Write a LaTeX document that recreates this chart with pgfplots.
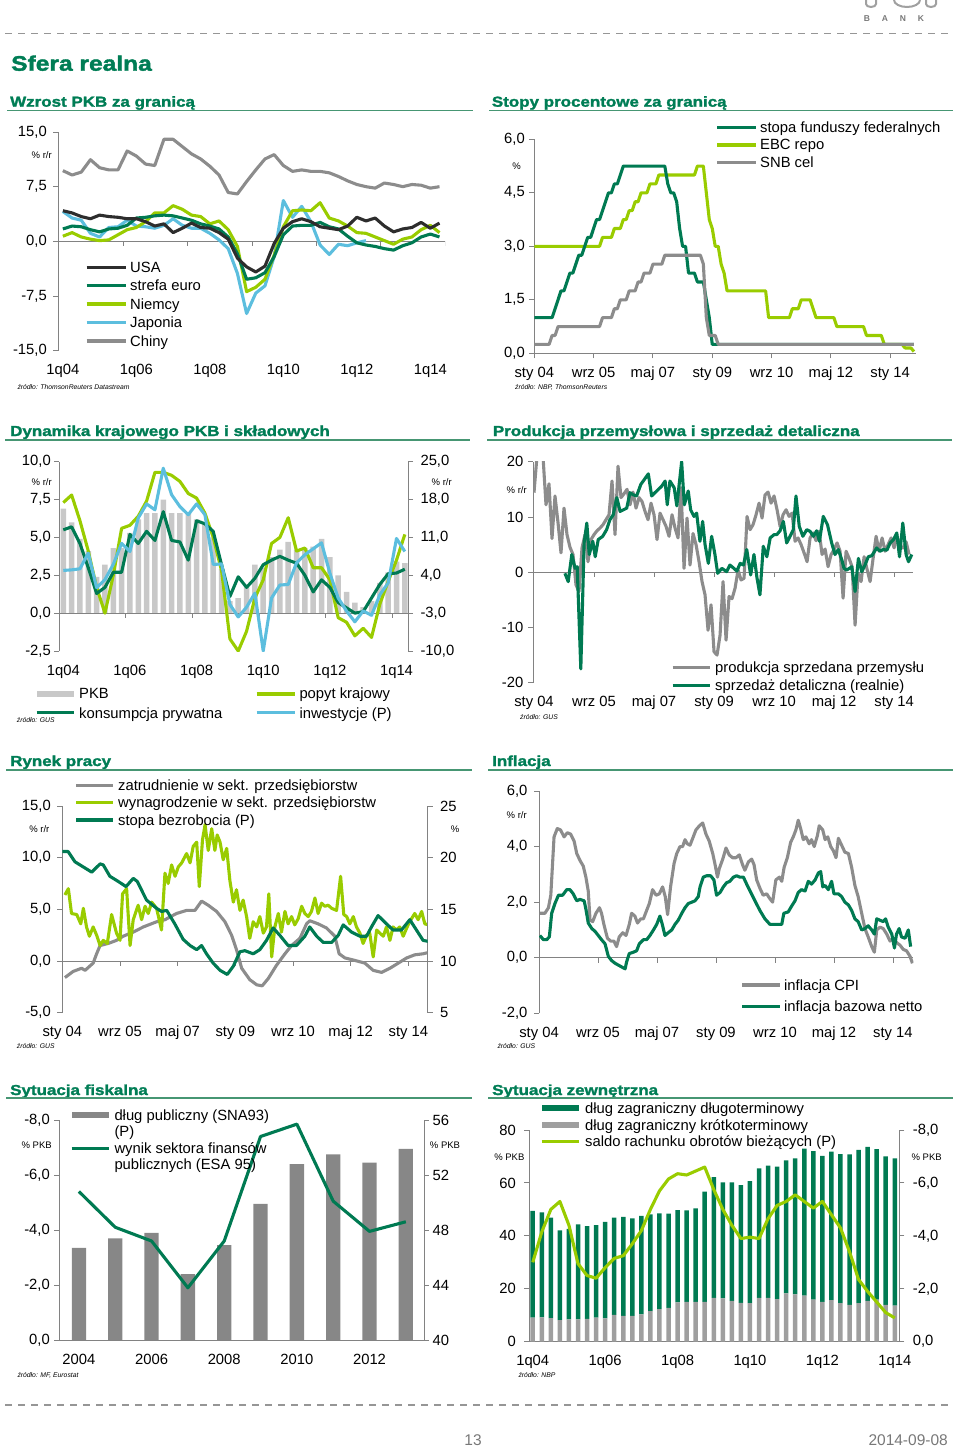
\documentclass[border=0pt]{standalone}
\usepackage{fontspec}
\setmainfont{Liberation Sans}
\newfontfamily\hfont[FakeStretch=1.17,BoldFeatures={FakeBold=1.8}]{Liberation Sans}
\usepackage{pgfplots}
\pgfplotsset{compat=1.18}
\usepackage{pgfplotstable}

\definecolor{dgreen}{RGB}{0,122,82}
\definecolor{lgreen}{RGB}{153,204,0}
\definecolor{lblue}{RGB}{92,190,222}
\definecolor{cgray}{RGB}{140,140,140}
\definecolor{cblack}{RGB}{45,45,45}
\definecolor{barlg}{RGB}{200,200,200}
\definecolor{bardg}{RGB}{135,135,135}
\definecolor{axgray}{RGB}{130,130,130}
\definecolor{tgreen}{RGB}{0,125,85}
\definecolor{rgreen}{RGB}{70,150,115}
\definecolor{dashc}{RGB}{150,150,150}
\definecolor{foot}{RGB}{120,120,120}

\newcommand\tickfont{\fontsize{14.8}{17}\selectfont}
\newcommand\unitfont{\fontsize{9.5}{11}\selectfont}
\newcommand\srcfont{\fontsize{6.8}{8}\selectfont\itshape}
\newcommand\titlefont{\hfont\bfseries\fontsize{14.5}{17}\selectfont}

\newcommand\lgl[4]{\draw[#1,line width=3.2pt] (#2pt,-#4pt) -- (#3pt,-#4pt);}
\newcommand\lgb[5]{\fill[#1] (#2pt,-#4pt) rectangle (#3pt,-#5pt);}
\newcommand\lgt[3]{\node[anchor=base west,inner sep=0pt,font=\tickfont,yshift=-5pt] at (#1pt,-#2pt) {#3};}
\newcommand\unit[3]{\node[font=\unitfont,inner sep=0pt] at (#1pt,-#2pt) {#3};}
\newcommand\src[3]{\node[anchor=west,font=\srcfont,inner sep=0pt] at (#1pt,-#2pt) {#3};}
\newcommand\phead[6]{\node[anchor=base west,inner sep=0pt,font=\titlefont,text=tgreen] at (#1pt,-#2pt) {#6};
  \draw[rgreen,line width=1.1pt] (#3pt,-#5pt) -- (#4pt,-#5pt);}
\newcommand\zt[1]{\pgfplotsinvokeforeach{#1}{\draw[axgray,line width=0.9pt] (axis cs:##1,0) -- ++(0pt,-5pt);}}

\pgfplotsset{
  base/.style={scale only axis, anchor=south west, clip=true,
    axis line style={axgray, line width=0.9pt},
    tick style={axgray, line width=0.9pt},
    major tick length=5pt, tick align=outside,
    tick label style={font=\tickfont},
    axis y line*=left, axis x line*=bottom,
    xticklabel style={anchor=base, yshift=-19pt}},
  zl/.style={x axis line style={draw=none}, xtick style={draw=none}},
  rax/.style={scale only axis, anchor=south west, clip=true,
    axis line style={axgray, line width=0.9pt},
    tick style={axgray, line width=0.9pt},
    major tick length=5pt, tick align=outside,
    tick label style={font=\tickfont},
    axis y line*=right, axis x line=none},
  ln/.style={line width=3.1pt, line join=round, mark=none},
  zline/.style={axgray, line width=0.9pt, forget plot},
}

% ---------- data ----------
\pgfplotstableread{
q ch us eu de jp
0 9.7 4.2 1.7 0.7 4.1
1 9.1 3.9 2.1 1.2 3.2
2 9.5 3.4 2.0 0.6 2.9
3 11.2 3.1 1.6 0.3 1.1
4 10.1 3.6 1.3 0.1 0.6
5 9.8 3.4 1.7 0.2 1.9
6 9.8 3.3 1.8 0.9 2.0
7 12.4 3.1 2.2 1.6 2.9
8 11.7 3.1 3.2 1.9 2.1
9 10.6 2.7 3.3 2.7 2.0
10 10.4 2.1 3.5 3.9 1.8
11 14.0 2.4 3.6 3.9 2.2
12 14.0 1.2 3.5 4.9 3.1
13 13.0 1.8 3.2 4.4 2.2
14 12.0 2.5 2.9 3.6 1.8
15 11.3 1.9 2.4 3.4 1.8
16 10.3 1.8 2.1 2.4 1.1
17 9.1 1.2 1.7 2.8 0.2
18 6.7 0.3 0.6 1.6 -1.0
19 6.5 -2.3 -1.7 -0.7 -4.4
20 8.2 -3.5 -5.2 -6.9 -9.9
21 9.8 -4.2 -5.0 -6.3 -7.1
22 11.3 -3.4 -4.3 -5.2 -6.1
23 11.9 -0.3 -2.1 -1.9 -2.1
24 10.4 1.8 0.9 2.0 5.6
25 9.6 2.7 2.1 4.2 3.3
26 9.8 3.1 2.2 4.3 4.8
27 9.6 2.7 2.2 4.2 2.7
28 9.6 2.0 2.6 5.3 -0.5
29 9.4 1.8 2.0 3.2 -1.8
30 8.9 1.6 1.7 2.8 -0.4
31 8.3 2.1 0.7 2.1 -0.6
32 7.8 3.3 -0.2 1.2 -0.2
33 7.5 2.8 -0.5 1.1 0.1
34 7.3 3.2 -0.7 0.6 nan
35 8.0 2.1 -1.0 0.1 nan
36 7.8 1.3 -1.2 -0.4 nan
37 7.5 1.7 -0.6 0.3 nan
38 7.8 1.9 -0.2 0.6 nan
39 7.7 2.6 0.6 1.6 nan
40 7.3 1.8 1.0 2.2 nan
41 7.5 2.5 0.6 1.2 nan
}\tA

\pgfplotstableread{
q pkb pop kon inw
0 6.9 7.3 5.5 4.9
1 6.0 7.8 5.7 5.0
2 4.9 6.1 4.6 5.2
3 4.1 4.1 3.0 8.1
4 2.4 1.7 1.3 1.7
5 3.2 0.0 1.7 3.2
6 4.3 2.5 2.7 6.0
7 4.3 5.6 2.7 9.9
8 5.3 5.8 5.2 8.4
9 6.2 6.4 4.6 14.6
10 6.6 7.4 5.4 17.2
11 6.6 9.3 4.8 16.1
12 7.5 9.3 6.7 23.8
13 6.6 9.1 4.8 18.9
14 6.6 8.7 4.7 16.7
15 6.6 7.9 3.5 15.2
16 6.2 7.6 6.1 17.2
17 5.9 6.6 5.9 15.2
18 5.0 5.0 5.4 6.0
19 2.9 2.8 3.2 6.1
20 0.8 -1.7 1.1 -1.4
21 1.0 -2.5 2.4 -3.7
22 1.7 -1.2 1.7 -1.9
23 3.2 1.0 2.3 0.7
24 3.0 2.2 3.2 -10.0
25 3.7 4.6 3.5 -0.2
26 4.2 5.0 3.75 2.2
27 4.7 6.3 3.5 2.3
28 4.2 4.1 3.3 6.3
29 4.3 4.3 2.5 7.8
30 4.4 3.0 1.4 8.9
31 4.9 3.0 2.2 10.0
32 3.7 2.2 1.7 4.4
33 2.5 -0.3 0.7 -0.2
34 1.4 -0.6 0.35 -2.6
35 0.7 -1.5 0.0 -4.6
36 0.4 -1.0 0.1 -2.6
37 0.8 -1.6 1.0 -3.4
38 2.0 0.6 1.9 0.4
39 2.7 2.1 2.6 2.6
40 3.4 3.5 2.65 10.8
41 3.3 5.2 2.9 8.4
}\tC

\pgfplotstableread{
y debt bal
2004 46.7 -5.4
2005 47.4 -4.1
2006 47.8 -3.6
2007 44.8 -1.9
2008 46.9 -3.6
2009 49.9 -7.4
2010 52.8 -7.85
2011 53.5 -5.05
2012 52.9 -3.95
2013 53.9 -4.3
}\tG

\pgfplotstableread{
q st lt ca
0 9.1 40.3 -3.0
1 9.2 39.7 -4.15
2 8.9 38.0 -5.0
3 8.2 33.9 -5.3
4 8.4 34.2 -4.4
5 8.4 35.9 -2.95
6 8.6 35.1 -2.5
7 9.1 35.0 -2.4
8 8.8 36.5 -2.8
9 10.1 36.8 -3.15
10 9.8 37.4 -3.25
11 9.8 36.8 -3.7
12 10.3 37.3 -4.2
13 11.6 36.5 -5.0
14 12.3 36.2 -5.7
15 12.8 35.6 -6.15
16 14.9 34.8 -6.35
17 15.1 34.5 -6.3
18 15.1 35.3 -6.45
19 15.1 41.6 -6.6
20 16.6 45.6 -5.75
21 16.4 43.8 -5.0
22 15.4 44.8 -4.4
23 14.7 44.5 -3.9
24 14.6 46.1 -3.95
25 16.6 48.9 -3.9
26 16.6 49.9 -4.65
27 16.1 50.1 -5.15
28 18.3 50.2 -5.3
29 17.9 51.4 -5.55
30 17.4 55.6 -5.3
31 15.9 56.1 -5.05
32 15.1 55.1 -5.3
33 15.7 56.1 -4.8
34 14.6 56.3 -4.3
35 13.9 56.9 -3.4
36 14.6 57.9 -2.35
37 15.4 58.2 -1.9
38 15.9 56.9 -1.5
39 13.9 56.1 -1.1
40 13.6 55.7 -0.9
}\tH

\begin{document}
\begin{tikzpicture}
\path[use as bounding box] (0pt,0pt) rectangle (960pt,-1450pt);

% ---------- header / footer ----------
\draw[dashc,line width=1.3pt,dash pattern=on 7pt off 6pt] (5pt,-33.3pt) -- (952pt,-33.3pt);
\draw[dashc,line width=1.3pt,dash pattern=on 7pt off 6pt] (5pt,-1405pt) -- (952pt,-1405pt);
\node[anchor=base west,inner sep=0pt,font=\hfont\bfseries\fontsize{21}{24}\selectfont,text=tgreen] at (11pt,-70.7pt) {Sfera realna};
\foreach \l/\x in {B/867,A/885,N/903,K/921}{\node[inner sep=0pt,font=\bfseries\fontsize{8.5}{9}\selectfont,text=foot] at (\x pt,-18.3pt) {\l};}
\draw[foot!70,line width=2pt] (866pt,0pt) -- (866pt,-4pt) arc (180:360:5pt and 3pt) -- (876pt,0pt);
\draw[foot!70,line width=2pt] (894pt,0pt) arc (180:360:13pt and 7pt);
\draw[foot!70,line width=2pt] (926pt,0pt) -- (926pt,-4pt) arc (180:360:5pt and 3pt) -- (936pt,0pt);
\node[inner sep=0pt,font=\fontsize{15.5}{18}\selectfont,text=foot] at (473pt,-1440pt) {13};
\node[anchor=east,inner sep=0pt,font=\fontsize{15.5}{18}\selectfont,text=foot] at (948pt,-1440pt) {2014-09-08};

% ---------- titles ----------
\phead{10}{106.7}{7.3}{473}{110.7}{Wzrost PKB za granicą}
\phead{491.7}{106.7}{489.3}{953}{110.7}{Stopy procentowe za granicą}
\phead{10}{436}{5}{470}{440}{Dynamika krajowego PKB i składowych}
\phead{492.7}{436}{487}{952}{440}{Produkcja przemysłowa i sprzedaż detaliczna}
\phead{10}{766}{6}{472}{770}{Rynek pracy}
\phead{492}{766}{488}{953}{770}{Inflacja}
\phead{10}{1095}{6}{472}{1098}{Sytuacja fiskalna}
\phead{492}{1095}{488}{953}{1098}{Sytuacja zewnętrzna}

% ===== P1 =====
\begin{axis}[base, zl, at={(58.3pt,-350.7pt)}, width=386.7pt, height=218.7pt,
  xmin=-0.5, xmax=41.6, ymin=-15, ymax=15,
  xtick={0,8,16,24,32,40}, xticklabels={1q04,1q06,1q08,1q10,1q12,1q14},
  ytick={-15,-7.5,0,7.5,15}, yticklabels={{-15,0},{-7,5},{0,0},{7,5},{15,0}},
  yticklabel style={xshift=-3pt}]
\addplot[zline] coordinates {(-0.5,0) (41.6,0)};
\zt{6.55,13.6,20.6,27.6,34.6,41.6}
\addplot[ln,cgray] table[x=q,y=ch]{\tA};
\addplot[ln,lblue] table[x=q,y=jp]{\tA};
\addplot[ln,lgreen] table[x=q,y=de]{\tA};
\addplot[ln,dgreen] table[x=q,y=eu]{\tA};
\addplot[ln,cblack] table[x=q,y=us]{\tA};
\end{axis}
\unit{41.7}{155}{\% r/r}
\lgl{cblack}{86.7}{126}{267.3}\lgt{130}{267.3}{USA}
\lgl{dgreen}{86.7}{126}{285.7}\lgt{130}{285.7}{strefa euro}
\lgl{lgreen}{86.7}{126}{304}\lgt{130}{304}{Niemcy}
\lgl{lblue}{86.7}{126}{322.7}\lgt{130}{322.7}{Japonia}
\lgl{cgray}{86.7}{126}{341}\lgt{130}{341}{Chiny}
\src{17.3}{387.3}{źródło: ThomsonReuters Datastream}

% ===== P2 =====
\begin{axis}[base, at={(534.3pt,-353.3pt)}, width=381.7pt, height=214pt,
  xmin=0, xmax=128.7, ymin=0, ymax=6,
  xtick={0,20,40,60,80,100,120}, xticklabels={sty 04,wrz 05,maj 07,sty 09,wrz 10,maj 12,sty 14},
  ytick={0,1.5,3,4.5,6}, yticklabels={{0,0},{1,5},{3,0},{4,5},{6,0}},
  yticklabel style={xshift=-1pt}]
\addplot[ln,lgreen] coordinates {(0,3.0) (22,3.0) (23,3.25) (26,3.25) (27,3.5) (29,3.5) (30,3.75) (31,3.75) (32,4.0) (33,4.0) (34,4.25) (35,4.25) (36,4.5) (38,4.5) (39,4.75) (41,4.75) (42,5.0) (54,5.0) (55,5.25) (57,5.25) (58,4.5) (59,3.75) (60,3.5) (61,3.0) (62,3.0) (63,2.5) (64,2.25) (65,1.75) (78,1.75) (79,1.0) (86,1.0) (87,1.25) (89,1.25) (90,1.5) (93,1.5) (94,1.25) (95,1.0) (101,1.0) (102,0.75) (111,0.75) (112,0.5) (117,0.5) (118,0.25) (124,0.25) (125,0.15) (127,0.15) (128,0.05)};
\addplot[ln,dgreen] coordinates {(0,1) (6,1) (7,1.25) (8,1.5) (9,1.75) (10,1.75) (11,2) (12,2.25) (13,2.25) (14,2.5) (15,2.75) (16,2.75) (17,3) (18,3.25) (19,3.25) (20,3.5) (21,3.75) (22,3.75) (23,4) (24,4.25) (25,4.5) (26,4.5) (27,4.75) (28,4.75) (29,5) (30,5.25) (44,5.25) (45,4.75) (46,4.5) (47,4.5) (48,4.25) (49,3.5) (50,3) (51,3) (52,2.25) (54,2.25) (55,2) (57,2) (58,1.5) (59,1) (60,0.25) (128,0.25)};
\addplot[ln,cgray] coordinates {(0,0.25) (5,0.25) (6,0.5) (7,0.5) (8,0.75) (22,0.75) (23,1.0) (26,1.0) (27,1.25) (28,1.25) (29,1.5) (31,1.5) (32,1.75) (34,1.75) (35,2.0) (36,2.0) (37,2.25) (39,2.25) (40,2.5) (43,2.5) (44,2.75) (56,2.75) (57,2.5) (58,1.0) (59,0.5) (61,0.5) (62,0.25) (128,0.25)};
\end{axis}
\unit{516.7}{166.7}{\%}
\lgl{dgreen}{717.3}{756}{127.3}\lgt{760}{127.3}{stopa funduszy federalnych}
\lgl{lgreen}{717.3}{756}{145}\lgt{760}{145}{EBC repo}
\lgl{cgray}{717.3}{756}{162.3}\lgt{760}{162.3}{SNB cel}
\src{515}{387.3}{źródło: NBP, ThomsonReuters}

% ===== P3 =====
\begin{axis}[base, zl, at={(59.3pt,-651pt)}, width=348.7pt, height=189.3pt,
  xmin=-0.48, xmax=41.38, ymin=-2.5, ymax=10,
  xtick={0,8,16,24,32,40}, xticklabels={1q04,1q06,1q08,1q10,1q12,1q14},
  ytick={-2.5,0,2.5,5,7.5,10}, yticklabels={{-2,5},{0,0},{2,5},{5,0},{7,5},{10,0}}]
\addplot[ybar, bar width=5.5pt, fill=barlg, draw=none] table[x=q,y=pkb]{\tC};
\addplot[zline] coordinates {(-0.48,0) (41.38,0)};
\zt{7.5,15.5,23.5,31.5,39.5}
\addplot[ln,lgreen] table[x=q,y=pop]{\tC};
\addplot[ln,dgreen] table[x=q,y=kon]{\tC};
\end{axis}
\begin{axis}[rax, at={(59.3pt,-651pt)}, width=348.7pt, height=189.3pt,
  xmin=-0.48, xmax=41.38, ymin=-10, ymax=25,
  ytick={-10,-3,4,11,18,25}, yticklabels={{-10,0},{-3,0},{4,0},{11,0},{18,0},{25,0}},
  yticklabel style={xshift=4pt}]
\addplot[ln,lblue] table[x=q,y=inw]{\tC};
\end{axis}
\unit{41.7}{481.7}{\% r/r}
\unit{441.7}{481.7}{\% r/r}
\lgb{barlg}{36.7}{74}{690.7}{697.3}\lgt{79}{693.3}{PKB}
\lgl{dgreen}{36.7}{74}{712.3}\lgt{79}{713.3}{konsumpcja prywatna}
\lgl{lgreen}{256.7}{295}{694}\lgt{299.3}{693.3}{popyt krajowy}
\lgl{lblue}{256.7}{295}{712.3}\lgt{299.3}{713.3}{inwestycje (P)}
\src{16.7}{720}{źródło: GUS}

% ===== P4 =====
\begin{axis}[base, zl, at={(533.3pt,-682.7pt)}, width=379.7pt, height=221pt,
  xmin=-0.23, xmax=126.3, ymin=-20, ymax=20,
  xtick={0,20,40,60,80,100,120}, xticklabels={sty 04,wrz 05,maj 07,sty 09,wrz 10,maj 12,sty 14},
  ytick={-20,-10,0,10,20}, yticklabels={-20,-10,0,10,20},
  yticklabel style={xshift=-1.5pt}]
\addplot[zline] coordinates {(-0.23,0) (126.3,0)};
\zt{20,40,60,80,100,120}
\addplot[ln,cgray] coordinates {(0,14.4)(1,21)(2,23)(3,21)(4,12.2)(5,16)(6,6.1)(7,13.8)(8,9)(9,3.5)(10,11.6)(11,6.8)(12,4.5)(13,3.2)(14,-2.3)(15,-3.5)(16,4.4)(17,6.8)(18,1.9)(19,5.9)(20,6.8)(21,7.5)(22,8.0)(23,8.6)(24,9.5)(25,10.4)(26,16.5)(27,6.8)(28,19.2)(29,13.5)(30,14.2)(31,15)(32,12.2)(33,14.5)(34,11.6)(35,13.5)(36,12.8)(37,11)(38,9.5)(39,12.5)(40,10.4)(41,5.9)(42,10.7)(43,9.5)(44,8.3)(45,6.5)(46,10.4)(47,8)(48,6.2)(49,15.3)(50,0.7)(51,9.8)(52,1.3)(53,7)(54,5)(55,1.9)(56,-1.7)(57,-4.1)(58,-10.5)(59,-5.9)(60,-14.4)(61,-15)(62,-11.4)(63,-1.7)(64,-12.3)(65,-4.4)(66,-4.8)(67,-2.9)(68,0.4)(69,-1.4)(70,-1.1)(71,10.1)(72,7.7)(73,8.6)(74,10.4)(75,12.5)(76,9.8)(77,14)(78,14.5)(79,12.5)(80,13.8)(81,11.3)(82,8.3)(83,10.4)(84,11.3)(85,10.1)(86,10.7)(87,5.6)(88,6.2)(89,5.0)(90,3.5)(91,1.9)(92,6.2)(93,7.1)(94,5.7)(95,7.4)(96,3.2)(97,4.2)(98,1.0)(99,3.2)(100,4.1)(101,5.3)(102,3.8)(103,-4.7)(104,3.8)(105,2.5)(106,1.0)(107,-9.6)(108,-0.2)(109,-1.7)(110,2.8)(111,0.5)(112,-1.7)(113,2.5)(114,6.5)(115,3.8)(116,6.2)(117,3.8)(118,5)(119,6.2)(120,4.4)(121,6.5)(122,4.7)(123,4.4)(124,5.5)(125,3.2)};
\addplot[ln,dgreen] coordinates {(10.3,-0.2)(11.4,-1.7)(12.6,3.2)(13.7,0.7)(14.4,1.0)(15.6,-17.5)(16.7,5.3)(17.6,8.9)(18.4,3.2)(19.6,5.6)(20.4,2.8)(21.4,5.9)(22.9,6.5)(24.2,7.7)(25.3,9.5)(26.4,10.4)(27.6,13.5)(28.7,11)(29.8,11.3)(30.9,11.6)(32,14.4)(33.1,14)(34.2,13.8)(35.6,15.9)(36.4,16.5)(38.1,17.8)(39.2,13.8)(40.9,14.7)(42.6,15.6)(43.7,16.5)(44.4,12.2)(45.3,16.5)(46.7,15.3)(47.6,12)(49.2,20)(50.1,12.2)(51.4,14.7)(52.2,11.3)(53.3,10.1)(54.2,10.7)(55.3,5.6)(56.2,9.2)(57,5.0)(58.1,1.6)(59.2,6.5)(60.3,3.2)(61.2,-0.2)(62.6,0.7)(64.2,0.1)(65.3,1.3)(66.4,0.8)(67.6,0.2)(68.7,1.6)(69.8,1.3)(70.9,4.1)(72.2,-0.5)(73.3,3.2)(74.3,-1.0)(75.3,-4.1)(76.4,4.7)(77.6,2.8)(78.7,6.2)(80,6.8)(80.9,6.8)(82,7.5)(83.1,9.2)(84.2,5.3)(85.6,6.8)(86.4,7.7)(87.3,13.8)(88.4,8.3)(89.6,6.5)(90.9,7.7)(92,7.4)(93.1,6.5)(94.2,7.5)(95.1,5.6)(96.4,10.1)(97.8,8.6)(99.2,5.3)(100.3,3.2)(101.4,4.1)(102.6,2.2)(103.3,0.7)(104.2,0.4)(105.1,0.7)(105.9,1.0)(107,-3.5)(108.1,2.5)(109.2,0.1)(110.3,1.3)(111.4,2.8)(112.6,3.0)(114.2,4.4)(115.3,3.8)(116.4,4.1)(117.6,4.0)(118.7,5.3)(119.8,5.9)(120.9,7.1)(121.8,2.8)(122.9,8.9)(124,3.2)(124.8,1.9)(125.9,3.2)};
\end{axis}
\unit{516.7}{490}{\% r/r}
\lgl{cgray}{672.7}{710}{667.7}\lgt{715}{667.7}{produkcja sprzedana przemysłu}
\lgl{dgreen}{672.7}{710}{685.7}\lgt{715}{685.7}{sprzedaż detaliczna (realnie)}
\src{520}{716.7}{źródło: GUS}

% ===== P5 =====
\begin{axis}[base, zl, at={(62.3pt,-1012.7pt)}, width=365.4pt, height=206.7pt,
  xmin=0, xmax=126.7, ymin=-5, ymax=15,
  xtick={0,20,40,60,80,100,120}, xticklabels={sty 04,wrz 05,maj 07,sty 09,wrz 10,maj 12,sty 14},
  ytick={-5,0,5,10,15}, yticklabels={{-5,0},{0,0},{5,0},{10,0},{15,0}},
  yticklabel style={xshift=-3pt}]
\addplot[zline] coordinates {(0,0) (126.7,0)};
\zt{20,40,60,80,100,120}
\addplot[ln,cgray] coordinates {(0.9,-1.6)(3.8,-1.0)(6.7,-0.7)(7.9,-0.9)(10.7,-0.2)(11.9,0.7)(13.1,1.5)(15.9,1.7)(18.8,2.0)(21.1,2.4)(24.6,2.8)(28.1,3.3)(32.7,3.8)(35.6,4.0)(39.6,4.6)(43.1,4.9)(46.0,4.9)(48.3,5.8)(50.6,5.4)(53.5,4.8)(56.4,3.8)(58.7,2.5)(60.4,1.1)(62.2,-0.7)(65.0,-1.8)(67.4,-2.3)(69.3,-2.4)(71.4,-1.7)(74.3,-0.4)(77.2,0.7)(79.5,1.5)(82.4,2.2)(84.7,3.6)(85.8,3.9)(88.7,3.6)(91.6,3.2)(94.5,2.4)(96.0,0.7)(98.0,0.3)(100.9,0.1)(104.9,-0.2)(107.8,-0.9)(110.7,-1.1)(113.6,-0.7)(116.5,-0.2)(119.4,0.3)(122.2,0.6)(125.1,0.7)(126.5,0.8)};
\addplot[ln,lgreen] coordinates {(0.9,6.4)(2.1,7.0)(3.2,4.6)(5.0,4.5)(6.4,3.6)(7.3,5.1)(8.4,3.3)(9.4,2.4)(10.7,3.3)(11.9,2.5)(13.1,1.5)(14.2,2.0)(15.6,1.7)(17.1,4.5)(18.8,2.7)(20.0,2.0)(20.9,6.5)(22.3,7.0)(23.5,1.5)(24.6,4.0)(26.3,5.4)(27.5,4.0)(28.7,5.3)(29.8,4.6)(31.0,5.7)(32.7,5.1)(34.4,3.0)(35.6,8.5)(36.7,7.5)(37.9,9.3)(39.1,8.2)(40.2,9.1)(41.4,9.5)(43.1,10.4)(44.3,9.5)(45.4,11.1)(46.6,11.5)(47.5,7.2)(48.6,11.7)(49.5,13.2)(50.6,10.7)(51.8,12.8)(52.9,10.7)(53.7,12.2)(54.7,11.5)(55.8,9.8)(57.0,10.9)(58.1,7.8)(59.3,5.7)(60.4,6.9)(61.6,4.9)(62.7,5.9)(63.9,4.3)(65.0,2.2)(66.2,3.8)(67.4,3.3)(68.5,4.3)(69.7,2.7)(70.8,3.3)(71.6,6.5)(72.6,0.4)(73.7,3.3)(74.9,4.6)(76.0,2.8)(77.2,4.8)(78.3,3.6)(79.5,4.3)(80.6,3.5)(81.8,4.1)(83.0,5.3)(84.1,4.6)(85.3,4.3)(86.4,4.8)(87.6,6.1)(88.7,4.6)(89.9,5.6)(91.0,5.3)(92.2,5.4)(93.4,5.1)(95.1,4.9)(96.5,8.2)(97.6,4.5)(98.6,4.3)(99.7,3.6)(100.9,4.3)(102.0,3.3)(103.2,2.7)(104.3,1.7)(105.5,2.5)(106.6,2.7)(107.8,0.4)(109.0,3.0)(110.1,2.7)(111.3,2.4)(112.4,3.3)(113.6,2.0)(114.7,3.3)(115.9,3.0)(117.0,3.3)(118.2,2.4)(119.9,3.5)(121.1,4.1)(122.2,4.6)(123.4,4.0)(124.6,4.8)(125.7,3.6)(126.9,3.5)};
\end{axis}
\begin{axis}[rax, at={(62.3pt,-1012.7pt)}, width=365.4pt, height=206.7pt,
  xmin=0, xmax=126.7, ymin=5, ymax=25,
  ytick={5,10,15,20,25}, yticklabels={5,10,15,20,25},
  yticklabel style={xshift=4pt}]
\addplot[ln,dgreen] coordinates {(0,20.6)(2,20.6)(4.4,19.6)(7.3,19.1)(10.2,18.6)(13.1,19.4)(14.2,19.3)(16.5,18.2)(19.4,17.7)(22.1,17.2)(24.6,18.0)(26.0,17.7)(29.2,15.9)(32.7,15.1)(34.4,14.8)(36.2,14.9)(39.0,13.6)(41.9,12.1)(44.3,11.5)(46.6,11.1)(48.3,11.5)(50.0,10.7)(52.3,9.8)(54.7,9.1)(57.2,8.7)(59.3,9.5)(61.6,10.9)(63.3,11.0)(66.2,10.7)(68.5,11.1)(70.8,12.0)(73.1,13.2)(75.4,12.5)(78.3,11.5)(81.2,11.5)(84.1,12.4)(85.8,13.3)(88.2,12.4)(90.5,11.8)(93.4,11.8)(95.7,12.5)(97.4,13.5)(100.3,12.8)(103.2,12.4)(105.5,12.4)(107.2,13.3)(109.5,14.4)(112.4,13.6)(114.7,13.0)(117.6,13.0)(120.5,14.0)(122.8,13.0)(125.1,12.0)(126.9,11.9)};
\end{axis}
\unit{39.3}{829.3}{\% r/r}
\unit{455}{829.3}{\%}
\lgl{cgray}{76}{113}{785.7}\lgt{118}{785.7}{zatrudnienie w sekt. przedsiębiorstw}
\lgl{lgreen}{76}{113}{802.7}\lgt{118}{802.7}{wynagrodzenie w sekt. przedsiębiorstw}
\lgl{dgreen}{76}{113}{820}\lgt{118}{820}{stopa bezrobocia (P)}
\src{16.7}{1046}{źródło: GUS}

% ===== P6 =====
\begin{axis}[base, zl, at={(539pt,-1013.3pt)}, width=374.3pt, height=222.3pt,
  xmin=0, xmax=126.9, ymin=-2, ymax=6,
  xtick={0,20,40,60,80,100,120}, xticklabels={sty 04,wrz 05,maj 07,sty 09,wrz 10,maj 12,sty 14},
  ytick={-2,0,2,4,6}, yticklabels={{-2,0},{0,0},{2,0},{4,0},{6,0}},
  yticklabel style={xshift=-3pt}]
\addplot[zline] coordinates {(0,0) (126.9,0)};
\zt{20,40,60,80,100,120}
\addplot[ln,cgray] coordinates {(0.3,1.6)(2,1.6)(3.2,1.8)(4,2.25)(5.1,4.35)(6.2,4.65)(7.3,4.6)(8.5,4.35)(9.6,4.5)(10.7,4.45)(11.9,4.2)(12.8,3.75)(13.9,3.5)(15,3.3)(15.9,2.9)(16.7,2.4)(17.3,1.35)(18.2,1.3)(19.3,1.6)(20.5,1.8)(21.2,1.6)(22,1.2)(23.2,0.7)(24.3,0.6)(25.4,0.6)(26.3,0.4)(27.2,0.75)(28.4,0.9)(29.5,0.8)(30.6,1.2)(31.4,1.6)(32.5,1.5)(33.4,1.25)(34.5,1.4)(35.4,1.4)(36.3,1.65)(37.4,1.95)(38.5,2.45)(39.7,2.25)(40.8,2.3)(41.9,2.55)(42.8,2.2)(43.6,1.55)(44.6,2.55)(45.8,3.4)(46.7,3.75)(47.8,4.0)(48.7,4.0)(49.5,4.25)(50.3,4.1)(51.2,4.05)(52.3,4.35)(53.2,4.6)(54.4,4.75)(55.5,4.85)(56.6,4.45)(57.7,4.2)(58.9,3.75)(59.7,3.35)(60.5,2.9)(61.1,3.2)(62.3,3.55)(63.4,3.95)(64.5,3.7)(65.6,3.6)(66.8,3.6)(67.9,3.7)(69,3.35)(69.8,3.15)(71,3.45)(72.1,3.55)(72.9,3.35)(73.8,2.8)(74.9,2.5)(76,2.25)(77.2,2.3)(78.1,2.15)(79.2,2.0)(80.3,2.8)(81.5,2.9)(82.3,2.75)(83.1,3.25)(84.2,3.6)(85.3,4.15)(86.2,4.35)(87.1,4.6)(87.9,4.95)(88.7,4.65)(89.6,4.25)(90.5,4.35)(91.6,4.1)(92.4,4.25)(93.3,4.0)(94.4,4.4)(95,4.75)(96.2,4.6)(97,4.25)(97.9,4.35)(98.9,4.0)(99.8,3.85)(100.7,3.6)(101.5,4.3)(102.6,4.05)(103.7,3.8)(104.9,3.75)(106,3.25)(107.1,2.6)(108.2,2.2)(109.4,1.6)(110.5,1.05)(111.6,0.75)(112.8,0.4)(113.7,0.2)(114.5,1.0)(115.6,1.1)(116.7,1.05)(117.9,0.85)(119,0.6)(120.1,0.7)(121.2,0.55)(122.4,0.45)(123.5,0.3)(124.6,0.25)(125.8,0.05)(126.6,-0.2)};
\addplot[ln,dgreen] coordinates {(0.3,0.8)(1.5,0.65)(2.6,0.65)(3.5,0.75)(4.3,1.6)(5.4,1.95)(6.6,2.25)(8,2.25)(9.4,2.45)(10.5,2.45)(11.6,2.3)(12.8,2.05)(13.9,2.1)(15.3,2.05)(15.9,1.75)(16.7,1.25)(17.9,1.05)(19,0.95)(20.1,0.8)(21.2,0.65)(22.4,0.5)(23.5,0.05)(24.6,-0.1)(25.8,-0.2)(27.5,-0.3)(29.2,-0.4)(29.7,-0.15)(30.6,0.15)(32,0.2)(33.1,0.25)(34,0.5)(35.4,0.65)(36.5,0.65)(37.6,0.8)(38.8,1.0)(39.9,1.2)(41,1.5)(41.8,1.2)(42.7,0.8)(43.8,0.9)(45,1.0)(46.1,1.2)(47.2,1.35)(48.4,1.6)(49.5,1.8)(50.6,1.95)(51.8,2.0)(52.9,2.05)(54,2.2)(54.6,2.55)(55.7,2.9)(56.8,2.95)(58.2,2.95)(59.3,2.8)(60.2,2.25)(61.4,2.35)(62.5,2.55)(63.6,2.7)(64.7,2.75)(65.9,2.9)(67,2.95)(68.1,2.9)(69.3,2.9)(70.4,2.65)(71.8,2.35)(73.2,2.05)(74.9,1.7)(76.6,1.4)(78.3,1.2)(80,1.2)(81.1,1.2)(82.3,1.2)(83,1.6)(84.5,1.65)(85.6,1.85)(86.8,2.05)(87.9,2.35)(89,2.45)(90.2,2.4)(91.3,2.75)(92.4,2.65)(93.6,2.8)(94.7,3.05)(95.5,3.1)(96.2,2.55)(97,2.6)(98.1,2.45)(99.2,2.75)(100,2.3)(101.5,2.3)(102.6,2.2)(103.7,2.0)(104.9,1.9)(106,1.7)(107.1,1.4)(108.2,1.3)(109.4,1.0)(110.5,1.05)(111.6,1.15)(112.8,1.0)(113.7,0.85)(114.5,1.4)(115.6,1.35)(116.7,1.3)(117.5,1.4)(118.4,1.1)(119.6,0.85)(120.5,0.35)(121.2,0.85)(122.1,1.05)(122.9,0.75)(124.1,0.7)(125.2,1.0)(126,0.4)};
\end{axis}
\unit{516.7}{815}{\% r/r}
\lgl{cgray}{742}{780}{985}\lgt{784}{985}{inflacja CPI}
\lgl{dgreen}{742}{780}{1006.7}\lgt{784}{1006.7}{inflacja bazowa netto}
\src{497.3}{1046}{źródło: GUS}

% ===== P7 =====
\begin{axis}[base, at={(59.3pt,-1340pt)}, width=364.7pt, height=220pt,
  axis y line*=right, ytick pos=right,
  xmin=2003.46, xmax=2013.5, ymin=40, ymax=56, xtick style={draw=none},
  xtick={2004,2006,2008,2010,2012}, xticklabels={2004,2006,2008,2010,2012},
  ytick={40,44,48,52,56}, yticklabels={40,44,48,52,56}]
\addplot[ybar, bar width=14.3pt, fill=bardg, draw=none] table[x=y,y=debt]{\tG};
\end{axis}
\begin{axis}[rax, axis y line*=left, at={(59.3pt,-1340pt)}, width=364.7pt, height=220pt,
  xmin=2003.46, xmax=2013.5, ymin=-8, ymax=0, y dir=reverse,
  ytick={-8,-6,-4,-2,0}, yticklabels={{-8,0},{-6,0},{-4,0},{-2,0},{0,0}},
  yticklabel style={xshift=-1pt}]
\addplot[ln,dgreen] table[x=y,y=bal]{\tG};
\end{axis}
\unit{36.7}{1145.7}{\% PKB}
\unit{445}{1145.7}{\% PKB}
\lgb{bardg}{71.7}{109}{1111.7}{1118.3}\lgt{114.3}{1115.7}{dług publiczny (SNA93)}
\lgt{114.3}{1131.7}{(P)}
\lgl{dgreen}{71.7}{109}{1148.3}\lgt{114.3}{1148.3}{wynik sektora finansów}
\lgt{114.3}{1164.3}{publicznych (ESA 95)}
\src{17.3}{1375}{źródło: MF, Eurostat}

% ===== P8 =====
\begin{axis}[base, at={(529.3pt,-1341.7pt)}, width=370pt, height=211.7pt,
  ybar stacked, bar width=4.5pt,
  xmin=-0.38, xmax=40.5, ymin=0, ymax=80, xtick style={draw=none},
  xtick={0,8,16,24,32,40}, xticklabels={1q04,1q06,1q08,1q10,1q12,1q14},
  ytick={0,20,40,60,80}, yticklabels={0,20,40,60,80},
  yticklabel style={xshift=-5pt}]
\addplot[fill=bardg!80, draw=none] table[x=q,y=st]{\tH};
\addplot[fill=dgreen, draw=none] table[x=q,y=lt]{\tH};
\zt{7.5,15.5,23.5,31.5,39.5}
\end{axis}
\begin{axis}[rax, at={(529.3pt,-1341.7pt)}, width=370pt, height=211.7pt,
  xmin=-0.38, xmax=40.5, ymin=-8, ymax=0, y dir=reverse,
  ytick={-8,-6,-4,-2,0}, yticklabels={{-8,0},{-6,0},{-4,0},{-2,0},{0,0}},
  yticklabel style={xshift=5pt}]
\addplot[ln,lgreen] table[x=q,y=ca]{\tH};
\end{axis}
\unit{509.3}{1157.7}{\% PKB}
\unit{926.7}{1157.7}{\% PKB}
\lgb{dgreen}{541.7}{579.3}{1105.3}{1111.3}\lgt{585}{1108.3}{dług zagraniczny długoterminowy}
\lgb{bardg!80}{541.7}{579.3}{1122}{1128}\lgt{585}{1125}{dług zagraniczny krótkoterminowy}
\lgl{lgreen}{541.7}{579.3}{1141.7}\lgt{585}{1141.7}{saldo rachunku obrotów bieżących (P)}
\src{518.3}{1375}{źródło: NBP}

\end{tikzpicture}
\end{document}
